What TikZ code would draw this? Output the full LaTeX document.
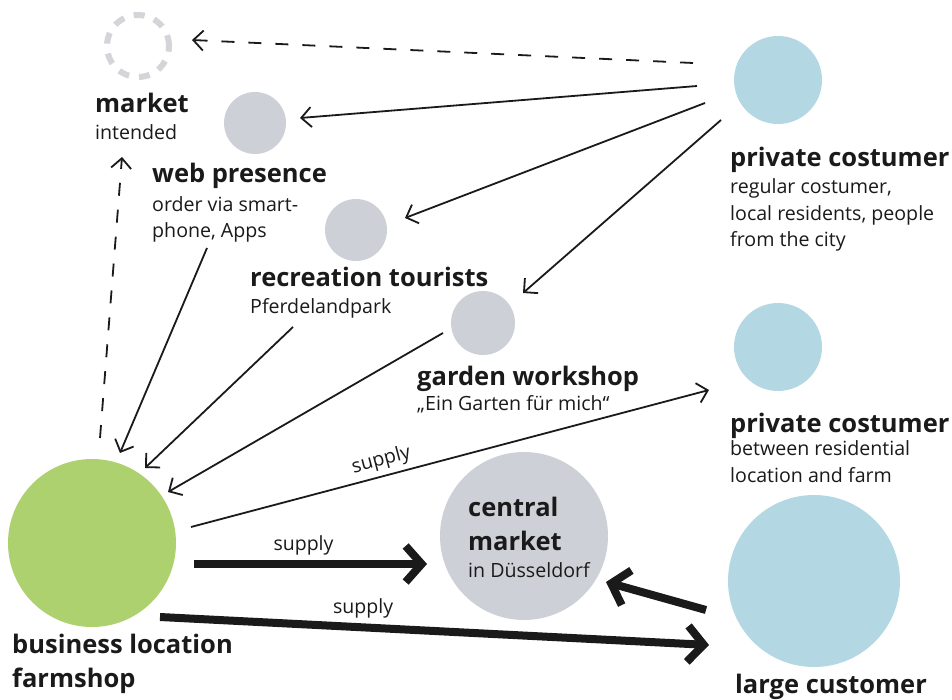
\documentclass[tikz,border=0pt]{standalone}
\usepackage{fontspec}
\setmainfont{Open Sans}
\usetikzlibrary{arrows.meta,calc}
\definecolor{ink}{HTML}{1A1A1A}
\definecolor{cgrey}{HTML}{CDD1D7}
\definecolor{cblue}{HTML}{B3D8E4}
\definecolor{cgreen}{HTML}{AED16F}
\definecolor{cdash}{HTML}{D3D5D9}
\tikzset{
  circ/.style={circle, inner sep=0pt, outer sep=0pt},
  greycirc/.style={circ, fill=cgrey},
  bluecirc/.style={circ, fill=cblue},
  greencirc/.style={circ, fill=cgreen},
  title/.style={anchor=base west, align=left, inner sep=0pt, text=ink, font=\bfseries\fontsize{25.5}{34}\selectfont},
  desc/.style={anchor=base west, align=left, inner sep=0pt, text=ink, font=\fontsize{19.6}{26.5}\selectfont},
  lab/.style={inner sep=0pt, text=ink, font=\fontsize{19.5}{22}\selectfont},
  conn/.style={draw=ink, line width=1.8pt, -{Straight Barb[length=10pt,width=20pt]}},
  dashconn/.style={conn, dash pattern=on 13pt off 14pt},
  bigarrow/.style={draw=ink, line width=8pt, -{Straight Barb[length=16pt,width=36pt]}}
}
\begin{document}
\begin{tikzpicture}[x=1pt,y=-1pt]
\useasboundingbox[fill=white] (0,0) rectangle (952,700);
% circles
\node[circ, draw=cdash, line width=6pt, dash pattern=on 11pt off 10pt, minimum size=62pt] (market) at (138,46) {};
\node[greycirc, minimum size=62pt] (web) at (255,123) {};
\node[greycirc, minimum size=62pt] (rec) at (356,230) {};
\node[greycirc, minimum size=64pt] (gw) at (483,323) {};
\node[bluecirc, minimum size=88pt] (pc1) at (778,80) {};
\node[bluecirc, minimum size=88pt] (pc2) at (778,347) {};
\node[greencirc, minimum size=168pt] (biz) at (92,543) {};
\node[greycirc, minimum size=168pt] (cm) at (524,536) {};
\node[bluecirc, minimum size=172pt] (lc) at (814,581) {};
% texts (multi-line nodes are anchored at the baseline of their last line)
\node[title] (tmarket) at (95,113) {market};
\node[desc] (dmarket) at (95,140) {intended};
\node[title] (tweb) at (152,183) {web presence};
\node[desc] (dweb) at (152,238) {order via smart-\\phone, Apps};
\node[title] (trec) at (250,287) {recreation tourists};
\node[desc] (drec) at (250,313) {Pferdelandpark};
\node[title] (tgw) at (417,385) {garden workshop};
\node[desc] (dgw) at (417,410) {„Ein Garten für mich“};
\node[title] (tpc1) at (730,167) {private costumer};
\node[desc] (dpc1) at (730,247) {regular costumer,\\local residents, people\\from the city};
\node[title] (tpc2) at (730,432) {private costumer};
\node[desc] (dpc2) at (730,482) {between residential\\location and farm};
\node[title] (tcm) at (468,550) {central\\market};
\node[desc] (dcm) at (468,577) {in Düsseldorf};
\node[title] (tbiz) at (12,687) {business location\\farmshop};
\node[title] (tlc) at (735,693) {large customer};
% connectors
\draw[dashconn] ($(pc1)+(-85,-17)$) -- ($(market)+(54,-6)$);
\draw[conn] ($(pc1)+(-81,6)$) -- ($(web)+(45,-5)$);
\draw[conn] ($(pc1)+(-73,23)$) -- ($(rec)+(49,-12)$);
\draw[conn] ($(pc1)+(-57,40)$) -- ($(gw)+(40,-30)$);
\draw[conn] ($(web)+(-48,125)$) -- ($(biz)+(28,-90)$);
\draw[conn] ($(rec)+(-63,97)$) -- ($(biz)+(53,-75)$);
\draw[conn] ($(gw)+(-40,10)$) -- ($(biz)+(76,-51)$);
\draw[dashconn] ($(biz)+(8,-105)$) -- ($(market)+(-16,111)$);
\draw[conn] ($(biz)+(99,-16)$) -- node[lab, sloped, above=5pt, pos=0.375] {supply} ($(pc2)+(-69,43)$);
\draw[bigarrow] ($(biz)+(102,21)$) -- node[lab, above=5pt, pos=0.47] {supply} ($(cm)+(-97,28)$);
\draw[bigarrow] ($(biz)+(68,74)$) -- node[lab, above=5pt, pos=0.37] {supply} ($(lc)+(-105,64)$);
\draw[bigarrow] ($(lc)+(-108,29)$) -- ($(cm)+(82,46)$);
\end{tikzpicture}
\end{document}
